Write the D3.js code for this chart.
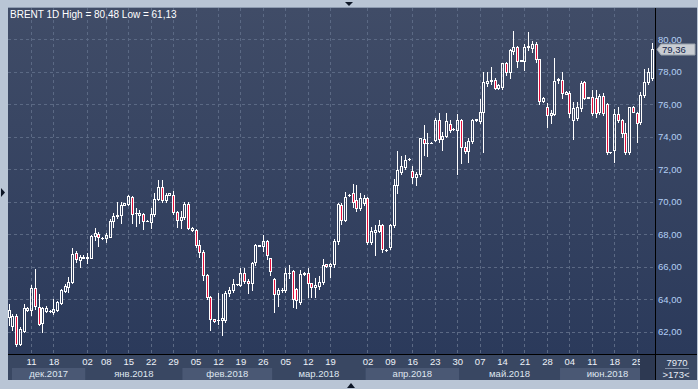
<!DOCTYPE html>
<html><head><meta charset="utf-8">
<script src="https://cdn.jsdelivr.net/npm/d3@7"></script>
<style>
html,body{margin:0;padding:0;background:#b9c5d5;}
svg{display:block;font-family:"Liberation Sans",Arial,sans-serif;}
</style>
</head><body>
<svg id="c" width="698" height="389"></svg>
<script>
// ---------------- data ----------------
const title = "BRENT 1D High = 80,48 Low = 61,13";
const startDate = "2017-12-04", endDate = "2018-06-29";
const closedDays = ["2017-12-24","2017-12-25","2017-12-31","2018-01-01","2018-03-30","2018-04-01"];

const open = [62.9,62.35,62.95,61.2,62.02,63.32,63.32,64.65,63.52,62.53,63.25,63.25,63.22,63.32,63.77,64.51,64.76,65.06,66.81,66.4,66.55,66.55,66.55,67.9,68.01,67.76,67.74,67.84,68.79,69.08,69.18,69.8,69.86,70.27,69.28,69.18,69.22,68.81,68.73,69.22,70.17,70.89,70.07,70.41,70.41,69.34,68.87,69.04,69.86,68.25,68.25,67.33,66.92,65.48,64.14,62.78,62.7,62.7,62.7,64.34,64.55,64.9,64.85,65.58,65.13,64.96,66.25,67.28,67.28,67.57,66.5,65.21,64.3,64.55,64.55,65.58,65.72,64.6,63.83,65.52,65.58,64.96,64.72,64.8,65.06,66.13,66.03,66.13,67.57,69.78,68.86,70.4,70.5,70.09,69.58,69.9,70.19,67.48,68.15,68.2,68.55,67.0,67.18,68.55,71.0,71.84,72.14,72.6,71.88,71.49,71.69,73.85,73.6,73.62,73.78,75.02,73.83,74.05,74.77,74.46,74.4,75.02,73.33,73.13,73.74,75.0,74.98,75.53,77.27,77.42,77.47,76.96,77.07,78.5,77.99,79.28,79.49,78.67,78.67,79.53,79.43,79.69,78.75,76.18,75.84,75.32,75.4,77.47,77.47,76.62,76.66,75.02,75.12,75.73,77.33,76.39,76.41,76.39,75.53,76.49,75.98,73.03,73.17,75.38,75.02,74.19,73.07,75.8,75.43,74.9,76.55,77.37,77.6];
const high = [63.7,63.1,63.1,62.3,63.67,63.5,64.86,65.83,64.28,63.5,63.6,63.3,64.0,63.85,64.6,64.9,65.37,67.16,66.96,66.71,66.7,66.85,67.95,68.36,68.15,67.8,68.05,68.9,69.32,70.0,70.0,69.9,70.41,70.35,69.59,69.49,69.3,68.85,69.59,70.52,71.3,71.34,70.5,70.55,70.62,69.4,69.39,70.0,70.0,68.4,68.3,67.64,67.0,65.55,64.2,62.8,64.39,64.3,64.5,64.76,65.21,64.95,65.88,65.88,65.2,66.3,67.4,67.32,67.94,67.62,66.55,65.3,64.65,64.7,65.88,66.08,65.8,64.7,65.78,65.65,65.88,65.0,65.27,65.4,66.46,66.15,66.2,67.7,69.9,69.9,70.56,70.45,71.08,71.01,70.5,70.4,70.3,68.45,68.55,68.86,68.6,67.06,68.6,71.36,73.1,72.8,72.86,72.65,72.18,71.8,73.93,74.71,74.19,73.66,75.12,75.43,74.3,75.43,75.0,74.5,75.4,75.1,73.68,73.9,75.06,75.1,76.29,77.99,77.99,78.3,77.6,77.2,78.54,78.6,79.4,80.48,79.6,78.7,79.7,80.45,79.9,79.8,78.8,76.4,76.04,75.63,78.81,77.6,77.99,76.8,76.8,76.14,76.1,77.42,77.4,76.42,76.86,76.86,76.6,76.7,76.04,73.06,75.67,75.84,75.1,74.81,75.84,75.85,75.5,76.76,78.13,78.2,79.73];
const low = [62.4,62.1,61.13,61.15,61.95,63.25,63.0,63.4,62.4,61.98,63.2,63.2,63.1,63.25,63.7,64.4,64.45,65.0,66.3,65.99,66.5,66.24,66.5,67.64,67.29,67.72,67.53,67.8,68.46,69.0,68.67,69.78,69.8,68.65,68.52,68.67,68.3,68.78,68.36,69.1,70.1,70.0,70.0,70.38,69.2,68.46,68.36,68.95,68.3,68.2,67.22,66.61,65.17,64.0,62.08,62.6,62.49,61.77,62.6,64.2,64.45,64.88,64.8,65.0,64.39,64.55,66.1,67.25,66.97,66.44,65.48,63.18,63.59,64.4,64.4,65.3,63.53,63.42,63.7,65.5,64.14,64.14,64.1,64.6,64.9,66.0,65.37,66.0,67.4,68.6,68.8,70.35,69.68,69.4,69.5,69.8,67.4,67.4,66.7,68.1,66.91,66.95,67.1,68.45,70.54,71.7,72.0,72.55,71.12,71.0,71.6,72.86,72.82,73.6,73.7,73.68,73.17,74.0,74.3,74.42,71.7,72.39,73.0,72.45,73.6,74.95,74.81,73.07,77.1,77.2,76.9,76.95,76.95,77.8,77.58,79.1,78.3,78.64,78.09,79.3,79.2,78.6,76.0,76.15,74.6,74.81,75.3,77.3,76.35,76.6,75.22,73.83,75.0,75.6,76.3,76.36,75.3,75.22,75.4,75.3,72.9,73.0,72.45,74.9,73.99,72.9,72.95,75.5,73.68,74.8,76.4,77.2,77.5];
const close = [63.3,62.95,61.2,62.14,63.42,63.42,64.65,63.56,62.49,63.42,63.42,63.27,63.36,63.79,64.55,64.8,65.02,66.77,66.44,66.57,66.61,66.61,67.88,68.05,67.8,67.78,67.95,68.81,69.12,69.18,69.8,69.88,70.31,69.22,69.3,69.28,68.77,68.82,69.22,70.17,70.89,70.11,70.41,70.52,69.34,68.87,69.04,69.86,68.36,68.36,67.33,66.92,65.48,64.14,62.74,62.64,62.72,62.84,64.34,64.55,64.9,64.92,65.58,65.13,64.96,66.2,67.32,67.3,67.57,66.7,65.74,64.3,64.55,64.57,65.58,65.62,63.98,63.94,65.52,65.6,64.96,64.72,64.86,65.06,66.09,66.03,66.13,67.57,69.83,68.86,70.3,70.42,69.99,69.58,70.19,70.19,67.48,68.2,68.25,68.55,67.06,67.03,68.55,71.0,71.94,72.18,72.55,72.62,71.49,71.69,73.89,73.58,73.62,73.63,75.02,73.83,74.05,74.95,74.4,74.47,75.0,73.38,73.13,73.74,75.02,75.06,75.53,77.37,77.42,77.47,76.96,77.17,78.5,77.99,79.32,79.49,78.67,78.68,79.53,79.58,79.69,78.75,76.18,76.35,75.32,75.43,77.42,77.52,76.66,76.76,75.43,75.73,75.84,77.31,76.39,76.4,75.47,75.47,76.49,75.43,73.07,73.04,75.38,75.02,74.19,73.03,75.8,75.53,74.85,76.55,77.37,78.0,79.36];

const yTicks = [62,64,66,68,70,72,74,76,78,80];
const weekTicks = ["2017-12-11","2017-12-18","2018-01-02","2018-01-08","2018-01-15","2018-01-22","2018-01-29","2018-02-05","2018-02-12","2018-02-19","2018-02-26","2018-03-05","2018-03-12","2018-03-19","2018-04-02","2018-04-09","2018-04-16","2018-04-23","2018-04-30","2018-05-07","2018-05-14","2018-05-21","2018-05-28","2018-06-04","2018-06-11","2018-06-18","2018-06-25"];
const monthKeys = ["2017-12","2018-01","2018-02","2018-03","2018-04","2018-05","2018-06"];
const monthLabels = ["дек.2017","янв.2018","фев.2018","мар.2018","апр.2018","май.2018","июн.2018"];
const lastPrice = 79.36;
const volumeText = "7970", barsText = ">173<";

// ---------------- build bar calendar (Sun–Fri sessions) ----------------
const fmt = d3.utcFormat("%Y-%m-%d");
const dates = [];
for (let d = new Date(startDate + "T00:00:00Z"); fmt(d) <= endDate; d = d3.utcDay.offset(d, 1)) {
  const s = fmt(d);
  if (d.getUTCDay() === 6 || closedDays.includes(s)) continue;
  dates.push(s);
}
const bars = dates.map((d, i) => ({d, o: open[i], h: high[i], l: low[i], c: close[i]}));

// ---------------- layout ----------------
const svg = d3.select("#c");
const PL = 8, PT = 8, PR = 655, PB = 354, AXB = 380, FR = 697;
const x = d3.scalePoint().domain(dates).range([8.6, 651.6]);
const step = x.step();
const y = d3.scaleLinear().domain([80, 62]).range([39, 331.5]);

const defs = svg.append("defs");
const g1 = defs.append("linearGradient").attr("id","bg").attr("x1",0).attr("y1",0).attr("x2",0).attr("y2",1);
g1.append("stop").attr("offset",0).attr("stop-color","#404c67");
g1.append("stop").attr("offset",1).attr("stop-color","#2b3a5b");
defs.append("clipPath").attr("id","plotclip").append("rect").attr("x",PL).attr("y",PT).attr("width",PR-PL).attr("height",PB-PT);

// outer frame & panel
svg.append("rect").attr("x",0).attr("y",0).attr("width",698).attr("height",389).attr("fill","#b9c5d5");
svg.append("rect").attr("x",PL).attr("y",PT).attr("width",FR-PL).attr("height",PB-PT).attr("fill","url(#bg)");
svg.append("line").attr("x1",PL).attr("x2",FR).attr("y1",PT-0.5).attr("y2",PT-0.5).attr("stroke","#8d9bb0");
svg.append("rect").attr("x",PL).attr("y",PB).attr("width",FR-PL).attr("height",AXB-PB).attr("fill","#394762");

// month bands
const monthStart = monthKeys.map(k => dates.find(d => d.startsWith(k)));
const bands = monthKeys.map((k, i) => {
  const x0 = Math.max(12, x(monthStart[i]) - step/2);
  const x1 = i < monthKeys.length - 1 ? x(monthStart[i+1]) - step/2 : PR;
  return {x0, x1, label: monthLabels[i], shade: i % 2 === 0};
});
svg.append("g").selectAll("rect").data(bands.filter(b => b.shade)).join("rect")
  .attr("x", b => b.x0).attr("y", 368).attr("width", b => b.x1 - b.x0).attr("height", AXB - 368)
  .attr("fill", "#4a5874");

// grid
const grid = svg.append("g").attr("clip-path","url(#plotclip)");
grid.selectAll(".hg").data(yTicks).join("line")
  .attr("x1",PL).attr("x2",PR).attr("y1",d=>Math.round(y(d))+0.5).attr("y2",d=>Math.round(y(d))+0.5)
  .attr("stroke","#5b6984").attr("stroke-dasharray","3,3");
grid.selectAll(".vg").data(weekTicks).join("line")
  .attr("y1",PT).attr("y2",PB).attr("x1",d=>Math.round(x(d))+0.5).attr("x2",d=>Math.round(x(d))+0.5)
  .attr("stroke","#5b6984").attr("stroke-dasharray","3,3");

// title
svg.append("text").attr("x",10).attr("y",18).attr("fill","#ffffff").attr("font-size","10px").text(title);

// candles
const cg = svg.append("g").attr("clip-path","url(#plotclip)");
bars.forEach(b => {
  const px = Math.round(x(b.d));
  const top = Math.round(y(Math.max(b.o, b.c)));
  const bot = Math.round(y(Math.min(b.o, b.c)));
  const yh = Math.round(y(b.h)), yl = Math.round(y(b.l));
  const down = b.c < b.o;
  if (yh < top) cg.append("line").attr("x1",px+0.5).attr("x2",px+0.5).attr("y1",yh).attr("y2",top).attr("stroke","#fff");
  if (yl > bot) cg.append("line").attr("x1",px+0.5).attr("x2",px+0.5).attr("y1",bot+1).attr("y2",yl+1).attr("stroke","#fff");
  if (bot - top < 1) {
    cg.append("rect").attr("x",px-1).attr("y",top).attr("width",3).attr("height",1).attr("fill","#fff");
  } else {
    cg.append("rect").attr("x",px-0.5).attr("y",top+0.5).attr("width",2).attr("height",bot-top)
      .attr("fill", down ? "#e4103c" : "none").attr("stroke","#fff").attr("stroke-width",1);
  }
});

// separators
svg.append("line").attr("x1",PR+0.5).attr("x2",PR+0.5).attr("y1",PT).attr("y2",AXB).attr("stroke","#000");
svg.append("line").attr("x1",PL).attr("x2",FR).attr("y1",PB+0.5).attr("y2",PB+0.5).attr("stroke","#000");

// y axis (right)
const yAxis = d3.axisRight(y).tickValues(yTicks).tickSize(0).tickPadding(0)
  .tickFormat(d => d.toFixed(2).replace(".", ","));
const ya = svg.append("g").attr("transform", `translate(${PR+3},0)`).call(yAxis);
ya.select(".domain").remove();
ya.selectAll("text").attr("fill","#b3cff4").attr("font-size","9.5px").attr("font-family","Liberation Sans, Arial, sans-serif");

// price marker
const py = Math.round(y(lastPrice)) + 0.5;
svg.append("path").attr("d", `M${PR+2},${py} L${PR+6},${py-5.5} L${FR-2},${py-5.5} L${FR-2},${py+5.5} L${PR+6},${py+5.5} Z`)
  .attr("fill","#c9cdd3").attr("stroke","#9aa3ad");
svg.append("text").attr("x",PR+7).attr("y",py+3.5).attr("fill","#13254a").attr("font-size","9.5px").text(lastPrice.toFixed(2).replace(".", ","));

// x axis (day numbers)
const xAxis = d3.axisBottom(x).tickValues(weekTicks).tickSize(0).tickPadding(0).tickFormat(d => d.slice(8));
const xa = svg.append("g").attr("transform", `translate(0,${PB+4})`).call(xAxis);
xa.select(".domain").remove();
xa.selectAll("text").attr("fill","#eef2f8").attr("font-size","9.5px").attr("font-family","Liberation Sans, Arial, sans-serif");

// month labels
svg.append("g").selectAll("text").data(bands).join("text")
  .attr("x", b => (b.x0 + b.x1)/2).attr("y", 377).attr("text-anchor","middle")
  .attr("fill","#dfe6f0").attr("font-size","9.5px").text(b => b.label);

// current-bar shade on axis
svg.append("rect").attr("x",640).attr("y",PB+1).attr("width",PR-640).attr("height",AXB-PB-1).attr("fill","#2d3952");

// bottom-right cell
svg.append("text").attr("x",677).attr("y",366).attr("text-anchor","middle").attr("fill","#e6ecf5").attr("font-size","9.5px").text(volumeText);
svg.append("line").attr("x1",665).attr("x2",689).attr("y1",368.5).attr("y2",368.5).attr("stroke","#8391a8");
svg.append("text").attr("x",676).attr("y",378).attr("text-anchor","middle").attr("fill","#e6ecf5").attr("font-size","9.5px").text(barsText);

// frame arrows
svg.append("path").attr("d","M345,2 L353,2 L349,6 Z").attr("fill","#0d1626");
svg.append("path").attr("d","M347,388 L355,388 L351,383 Z").attr("fill","#0d1626");
svg.append("path").attr("d","M1,188 L1,197 L5,192.5 Z").attr("fill","#0d1626");
</script>
</body></html>
